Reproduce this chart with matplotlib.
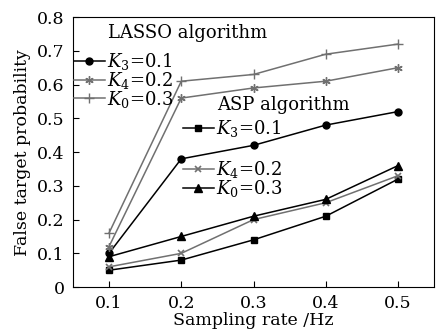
import matplotlib
matplotlib.use('Agg')
import matplotlib.pyplot as plt

plt.rcParams['font.family'] = 'DejaVu Serif'
plt.rcParams['mathtext.fontset'] = 'dejavuserif'

rates = [0.1, 0.2, 0.3, 0.4, 0.5]
# LASSO algorithm
lasso_k1 = [0.10, 0.38, 0.42, 0.48, 0.52]
lasso_k2 = [0.12, 0.56, 0.59, 0.61, 0.65]
lasso_k3 = [0.16, 0.61, 0.63, 0.69, 0.72]
# ASP algorithm
asp_k1 = [0.05, 0.08, 0.14, 0.21, 0.32]
asp_k2 = [0.06, 0.10, 0.20, 0.25, 0.33]
asp_k3 = [0.09, 0.15, 0.21, 0.26, 0.36]

labels = ['$K_3$=0.1', '$K_4$=0.2', '$K_0$=0.3']

gray = '#707070'
fig = plt.figure(figsize=(4.39, 3.35), dpi=100)
ax = fig.add_axes([0.166, 0.143, 0.823, 0.806])

l1, = ax.plot(rates, lasso_k1, color='black', marker='o', ms=5, lw=1.1)
l2, = ax.plot(rates, lasso_k2, color=gray, marker=(6, 2, 0), ms=6, mew=1.0, lw=1.1)
l3, = ax.plot(rates, lasso_k3, color=gray, marker='+', ms=7, mew=1.0, lw=1.1)
a1, = ax.plot(rates, asp_k1, color='black', marker='s', ms=5, lw=1.1)
a2, = ax.plot(rates, asp_k2, color=gray, marker='x', ms=5, mew=1.2, lw=1.1)
a3, = ax.plot(rates, asp_k3, color='black', marker='^', ms=6, lw=1.1)

ax.set_xlim(0.05, 0.55)
ax.set_ylim(0, 0.8)
ax.set_xticks(rates)
ax.set_xticklabels(['0.1', '0.2', '0.3', '0.4', '0.5'])
ax.set_yticks([0, 0.1, 0.2, 0.3, 0.4, 0.5, 0.6, 0.7, 0.8])
ax.set_yticklabels(['0', '0.1', '0.2', '0.3', '0.4', '0.5', '0.6', '0.7', '0.8'])
ax.tick_params(direction='in', labelsize=12.5, length=4, pad=6)
ax.set_xlabel('Sampling rate /Hz', fontsize=12.5, labelpad=0)
ax.set_ylabel('False target probability', fontsize=12.5, labelpad=4)

kw = dict(frameon=False, fontsize=13, handlelength=1.7, handletextpad=0.15,
          labelspacing=-0.12, borderpad=0, borderaxespad=0, loc='upper left')
leg1 = ax.legend([l1, l2, l3], labels, bbox_to_anchor=(0.003, 0.874), **kw)
ax.add_artist(leg1)
leg2 = ax.legend([a1], labels[:1], bbox_to_anchor=(0.305, 0.626), **kw)
ax.add_artist(leg2)
ax.legend([a2, a3], labels[1:], bbox_to_anchor=(0.305, 0.474), **kw)

ax.text(0.097, 0.941, 'LASSO algorithm', transform=ax.transAxes,
        fontsize=13, va='center', ha='left')
ax.text(0.399, 0.674, 'ASP algorithm', transform=ax.transAxes,
        fontsize=13, va='center', ha='left')

fig.savefig('out.png', dpi=100)
